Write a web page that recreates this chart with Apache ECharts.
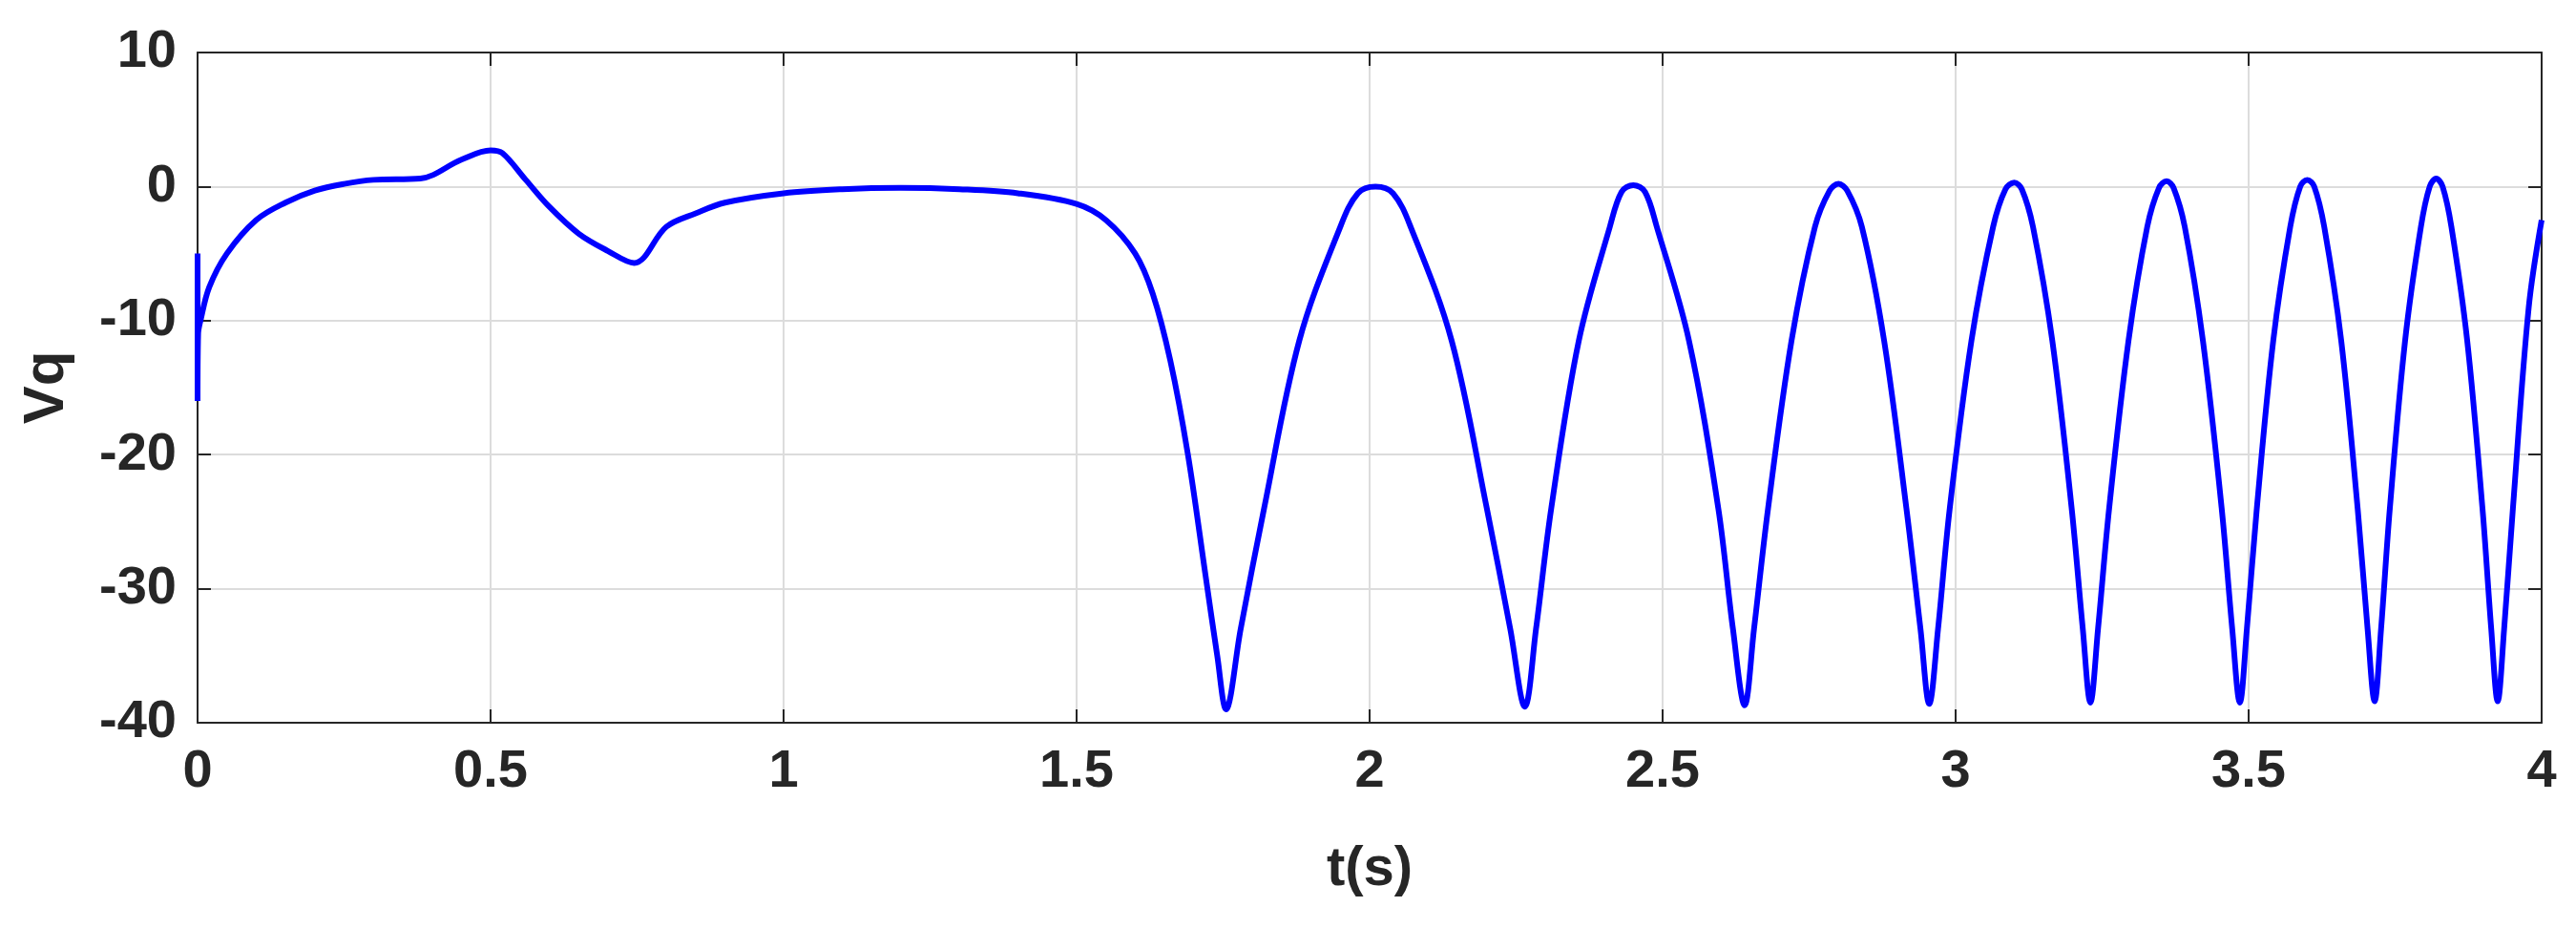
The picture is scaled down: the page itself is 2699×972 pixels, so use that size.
<!DOCTYPE html>
<html><head><meta charset="utf-8">
<script src="https://cdn.jsdelivr.net/npm/echarts@6/dist/echarts.min.js"></script>
<style>html,body{margin:0;padding:0;background:#fff}#c{width:2699px;height:972px}</style>
</head><body><div id="c"></div>
<script>
const tValues = [0,0,0.001,0.005,0.02,0.05,0.1,0.15,0.2,0.25,0.3,0.38,0.45,0.5,0.52,0.56,0.6,0.65,0.7,0.745,0.8,0.85,0.9,1.0,1.1,1.2,1.3,1.4,1.5,1.55,1.6,1.63,1.66,1.69,1.72,1.74,1.755,
1.78,1.82,1.88,1.95,1.98,2.01,2.04,2.07,2.14,2.2,2.24,2.265,
2.284,2.31,2.357,2.41,2.43,2.45,2.47,2.49,2.545,2.595,2.62,2.64,
2.656,2.68,2.72,2.76,2.785,2.8,2.815,2.84,2.878,2.916,2.94,2.955,
2.97,2.99,3.027,3.064,3.085,3.1,3.113,3.132,3.165,3.198,3.217,3.23,
3.243,3.262,3.295,3.327,3.347,3.36,3.372,3.391,3.422,3.454,3.472,3.485,
3.497,3.514,3.542,3.571,3.588,3.6,3.612,3.629,3.658,3.686,3.703,3.715,
3.726,3.741,3.767,3.794,3.809,3.82,3.831,3.846,3.873,3.899,3.914,3.925,
3.936,3.951,3.978,4.0];
const vqValues = [-5,-16,-11,-10,-7.5,-5,-2.5,-1.2,-0.3,0.2,0.5,0.6,2,2.7,2.5,0.5,-1.5,-3.5,-4.8,-5.7,-3,-2,-1.2,-0.5,-0.2,-0.1,-0.2,-0.5,-1.3,-2.5,-5,-8,-13,-20,-29,-35,-39,
-33,-24,-11.5,-3,-0.5,0,-0.5,-3,-11.5,-24,-33,-38.8,
-33,-24,-11.5,-3,-0.4,0.1,-0.4,-3,-11.5,-24,-33,-38.7,
-33,-24,-11.5,-3,-0.3,0.2,-0.3,-3,-11.5,-24,-33,-38.6,
-33,-24,-11.5,-3,-0.2,0.3,-0.2,-3,-11.5,-24,-33,-38.5,
-33,-24,-11.5,-3,-0.1,0.4,-0.1,-3,-11.5,-24,-33,-38.5,
-33,-24,-11.5,-3,0,0.5,0,-3,-11.5,-24,-33,-38.4,
-33,-24,-11.5,-3,0,0.6,0,-3,-11.5,-24,-33,-38.4,
-33,-24,-9,-2.5];
const xTicks = [0,0.5,1,1.5,2,2.5,3,3.5,4];
const yTicks = [-40,-30,-20,-10,0,10];
const data = tValues.map((t,i)=>[t,vqValues[i]]);
const font = 'Liberation Sans, Arial, sans-serif';
const lbl = {fontFamily:font,fontWeight:'bold',fontSize:56,color:'#262626'};
const axLine = {show:true,onZero:false,lineStyle:{color:'#262626',width:2}};
const tick = {inside:true,length:14,lineStyle:{color:'#262626',width:2}};
const split = {show:true,lineStyle:{color:'#dcdcdc',width:2}};
const chart = echarts.init(document.getElementById('c'));
chart.setOption({
  animation:false,
  grid:{left:207,right:36,top:55,bottom:215},
  xAxis:[{type:'value',min:xTicks[0],max:xTicks[xTicks.length-1],interval:0.5,axisLine:axLine,axisTick:tick,
    splitLine:split,axisLabel:Object.assign({margin:24,formatter:v=>String(v)},lbl),
    name:'t(s)',nameLocation:'middle',nameGap:125,nameTextStyle:{fontFamily:font,fontWeight:'bold',fontSize:58,color:'#262626'}},
    {type:'value',position:'top',min:0,max:4,interval:0.5,axisLine:axLine,axisTick:tick,axisLabel:{show:false},splitLine:{show:false}}],
  yAxis:[{type:'value',min:yTicks[0],max:yTicks[yTicks.length-1],interval:10,axisLine:axLine,axisTick:tick,
    splitLine:split,axisLabel:Object.assign({margin:22},lbl),
    name:'Vq',nameLocation:'middle',nameGap:128,nameTextStyle:{fontFamily:font,fontWeight:'bold',fontSize:60,color:'#262626'}},
    {type:'value',position:'right',min:-40,max:10,interval:10,axisLine:axLine,axisTick:tick,axisLabel:{show:false},splitLine:{show:false}}],
  series:[{type:'line',data:data,showSymbol:false,smooth:0.35,lineStyle:{color:'#0000ff',width:6}}]
});
</script></body></html>
